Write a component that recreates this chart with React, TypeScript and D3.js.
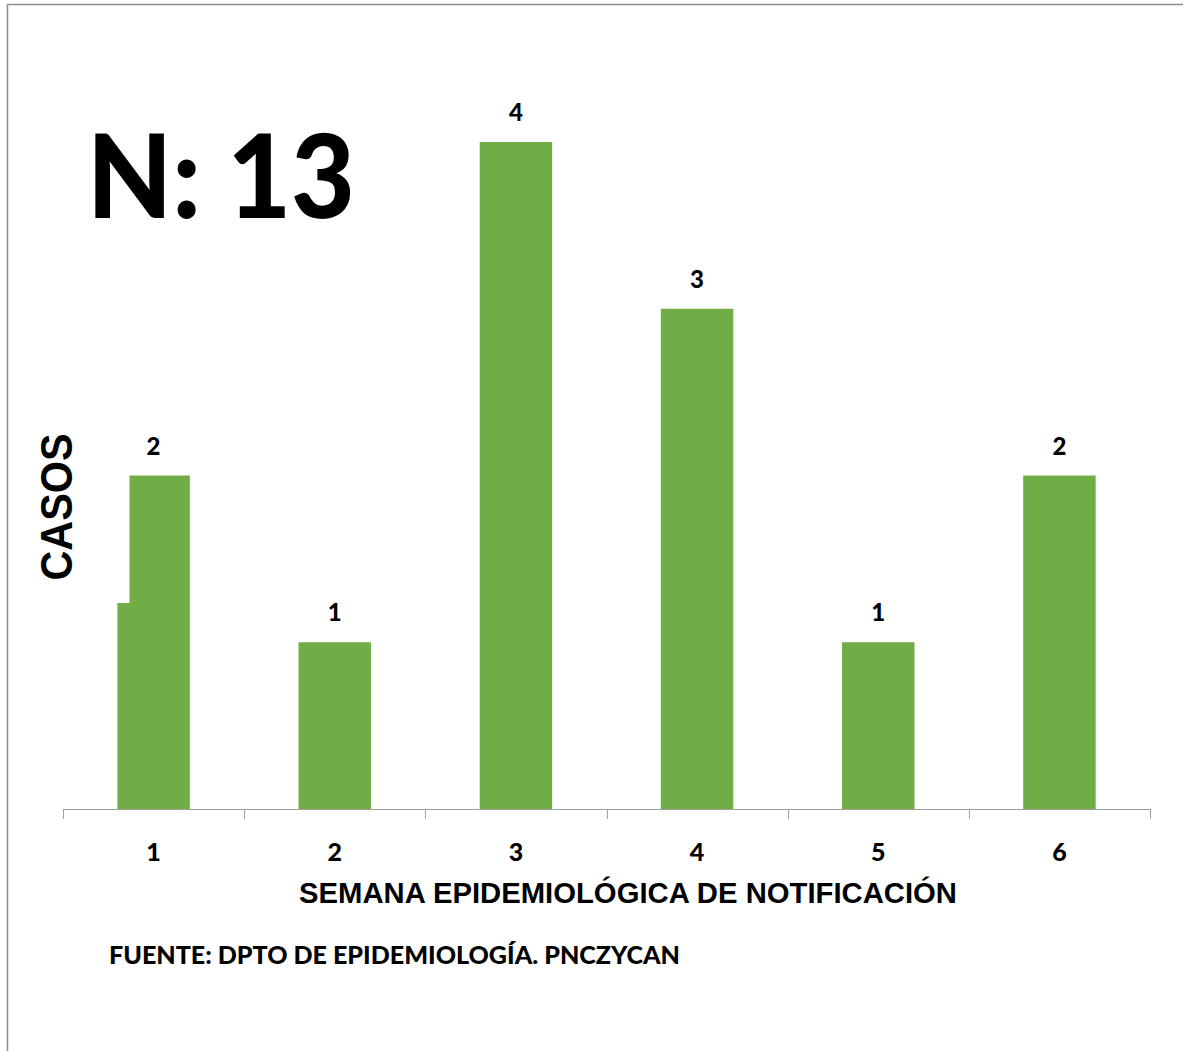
import React from "react";
import * as d3 from "d3";

const weeks: string[] = ["1", "2", "3", "4", "5", "6"];
const cases: number[] = [2, 1, 4, 3, 1, 2];
const yMax = 4;

const titleText = "N: 13";
const xTitle = "SEMANA EPIDEMIOLÓGICA DE NOTIFICACIÓN";
const yTitle = "CASOS";
const sourceText = "FUENTE: DPTO DE EPIDEMIOLOGÍA. PNCZYCAN";

const W = 1183;
const H = 1051;
const plotLeft = 63;
const plotRight = 1150;
const plotBottom = 809;
const plotTop = 142;

const calibri = "Lato, 'Open Sans', sans-serif";
const arial = "'Liberation Sans', Arial, sans-serif";

export default function App() {
  const x = d3
    .scaleBand<string>()
    .domain(weeks)
    .range([plotLeft, plotRight])
    .paddingInner(0.6)
    .paddingOuter(0.3);
  const y = d3.scaleLinear().domain([0, yMax]).range([plotBottom, plotTop]);
  const step = (plotRight - plotLeft) / weeks.length;
  const boundaries = d3.range(weeks.length + 1).map((i) => plotLeft + i * step);

  return (
    <svg
      width={W}
      height={H}
      style={{ position: "absolute", left: 0, top: 0, background: "#fff" }}
    >
      <rect x={0} y={0} width={W} height={H} fill="#fff" />
      <rect
        x={7.5}
        y={4.5}
        width={W + 20}
        height={H + 20}
        fill="none"
        stroke="#8c8c8c"
        strokeWidth={1.5}
      />
      {weeks.map((w, i) => (
        <rect
          key={w}
          x={x(w)}
          y={y(cases[i])}
          width={x.bandwidth()}
          height={plotBottom - y(cases[i])}
          fill="#70AD47"
        />
      ))}
      {/* axis title background box */}
      <rect x={20} y={400} width={109.5} height={203} fill="#fff" />
      <line
        x1={plotLeft}
        x2={plotRight}
        y1={plotBottom + 0.5}
        y2={plotBottom + 0.5}
        stroke="#a0a0a0"
        strokeWidth={1}
      />
      {boundaries.map((b, i) => (
        <line
          key={i}
          x1={Math.round(b) + 0.5}
          x2={Math.round(b) + 0.5}
          y1={plotBottom}
          y2={plotBottom + 10}
          stroke="#a0a0a0"
          strokeWidth={1}
        />
      ))}
      {weeks.map((w, i) => (
        <text
          key={"v" + w}
          x={(x(w) as number) + x.bandwidth() / 2}
          y={y(cases[i]) - 21}
          textAnchor="middle"
          fontFamily={calibri}
          fontWeight={900}
          fontSize={24}
          fill="#000"
        >
          {cases[i]}
        </text>
      ))}
      {weeks.map((w) => (
        <text
          key={"t" + w}
          x={(x(w) as number) + x.bandwidth() / 2}
          y={861}
          textAnchor="middle"
          fontFamily={calibri}
          fontWeight={900}
          fontSize={25}
          fill="#000"
        >
          {w}
        </text>
      ))}
      <text
        x={628}
        y={903}
        textAnchor="middle"
        fontFamily={arial}
        fontWeight={700}
        fontSize={29}
        textLength={658}
        lengthAdjust="spacingAndGlyphs"
        fill="#000"
      >
        {xTitle}
      </text>
      <text
        transform={`translate(72, 507) rotate(-90)`}
        textAnchor="middle"
        fontFamily={arial}
        fontWeight={700}
        fontSize={45}
        textLength={147}
        lengthAdjust="spacingAndGlyphs"
        fill="#000"
      >
        {yTitle}
      </text>
      <text
        x={109}
        y={964}
        fontFamily={calibri}
        fontWeight={900}
        fontSize={25}
        textLength={571}
        lengthAdjust="spacingAndGlyphs"
        fill="#000"
      >
        {sourceText}
      </text>
      <text
        x={87}
        y={218}
        fontFamily={calibri}
        fontWeight={900}
        fontSize={116}
        textLength={268}
        lengthAdjust="spacingAndGlyphs"
        fill="#000"
      >
        {titleText}
      </text>
    </svg>
  );
}
